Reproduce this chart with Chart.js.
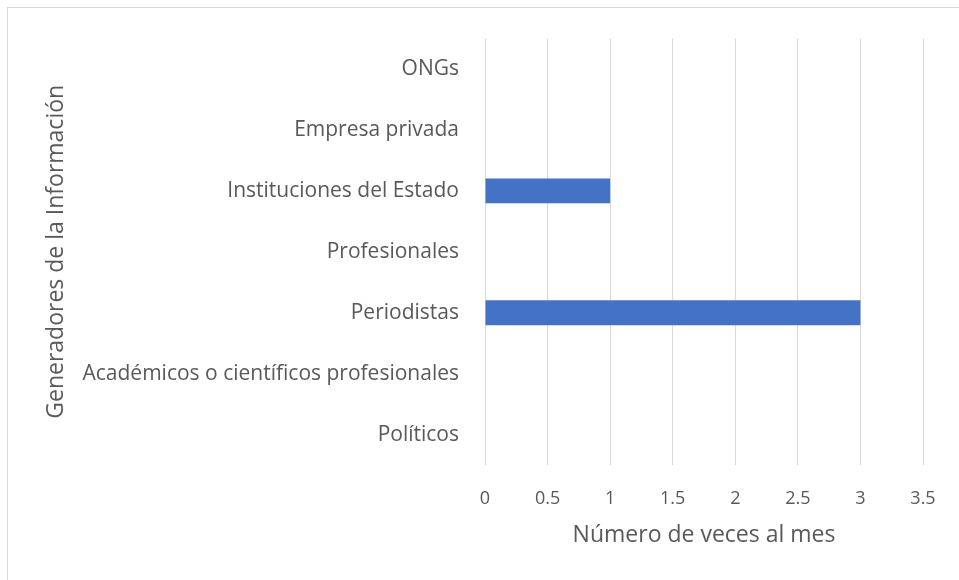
<!DOCTYPE html>
<html>
<head>
<meta charset="utf-8">
<script src="https://cdn.jsdelivr.net/npm/chart.js@4/dist/chart.umd.min.js"></script>
<style>
  body { margin: 0; background: #fff; }
  #wrap { position: relative; width: 959px; height: 580px; overflow: hidden; }
  #frame { position: absolute; left: 7px; top: 7px; width: 1000px; height: 1000px;
           border-left: 1px solid #d9d9d9; border-top: 1px solid #d9d9d9; }
  canvas { position: absolute; left: 0; top: 0; }
</style>
</head>
<body>
<div id="wrap">
  <div id="frame"></div>
  <canvas id="myBarChart" width="959" height="580"></canvas>
</div>
<script>
// Categories, top to bottom as in the picture
var categories = ['ONGs', 'Empresa privada', 'Instituciones del Estado', 'Profesionales',
                  'Periodistas', 'Académicos o científicos profesionales', 'Políticos'];
// Number of times per month
var values = [0, 0, 1, 0, 3, 0, 0];
var xTicks = [0, 0.5, 1, 1.5, 2, 2.5, 3, 3.5];

var xTitle = 'Número de veces al mes';
var yTitle = 'Generadores de la Información';

var textColor = '#595959';
var gridColor = '#d9d9d9';
var fontFamily = '"Open Sans", sans-serif';

document.addEventListener("DOMContentLoaded", function() {
    var ctx = document.getElementById('myBarChart').getContext('2d');

    var chart = new Chart(ctx, {
        type: 'bar',
        data: {
            labels: categories,
            datasets: [{
                data: values,
                backgroundColor: '#4472c4',
                borderWidth: 0,
                barPercentage: 1,
                categoryPercentage: 0.41
            }]
        },
        options: {
            indexAxis: 'y',
            responsive: false,
            animation: false,
            layout: { padding: { top: 36, right: 36, left: 0, bottom: 0 } },
            plugins: {
                legend: { display: false },
                tooltip: { enabled: false }
            },
            scales: {
                x: {
                    min: 0,
                    max: 3.5,
                    afterBuildTicks: function(scale) {
                        scale.ticks = xTicks.map(function(v) { return { value: v }; });
                    },
                    afterFit: function(scale) { scale.height = 115; },
                    grid: { color: gridColor, lineWidth: 1, drawTicks: false },
                    border: { display: false },
                    ticks: {
                        color: textColor,
                        padding: 23,
                        font: { family: fontFamily, size: 18 },
                        callback: function(value) { return String(value); }
                    },
                    title: {
                        display: true,
                        text: xTitle,
                        color: textColor,
                        padding: 31,
                        font: { family: fontFamily, size: 23 }
                    }
                },
                y: {
                    afterFit: function(scale) { scale.width = 485; },
                    grid: { display: false, drawTicks: false },
                    border: { display: false },
                    ticks: {
                        color: textColor,
                        padding: 26,
                        font: { family: fontFamily, size: 21 }
                    },
                    title: {
                        display: true,
                        text: yTitle,
                        color: textColor,
                        padding: 43,
                        font: { family: fontFamily, size: 23 }
                    }
                }
            }
        }
    });
});
</script>
</body>
</html>
